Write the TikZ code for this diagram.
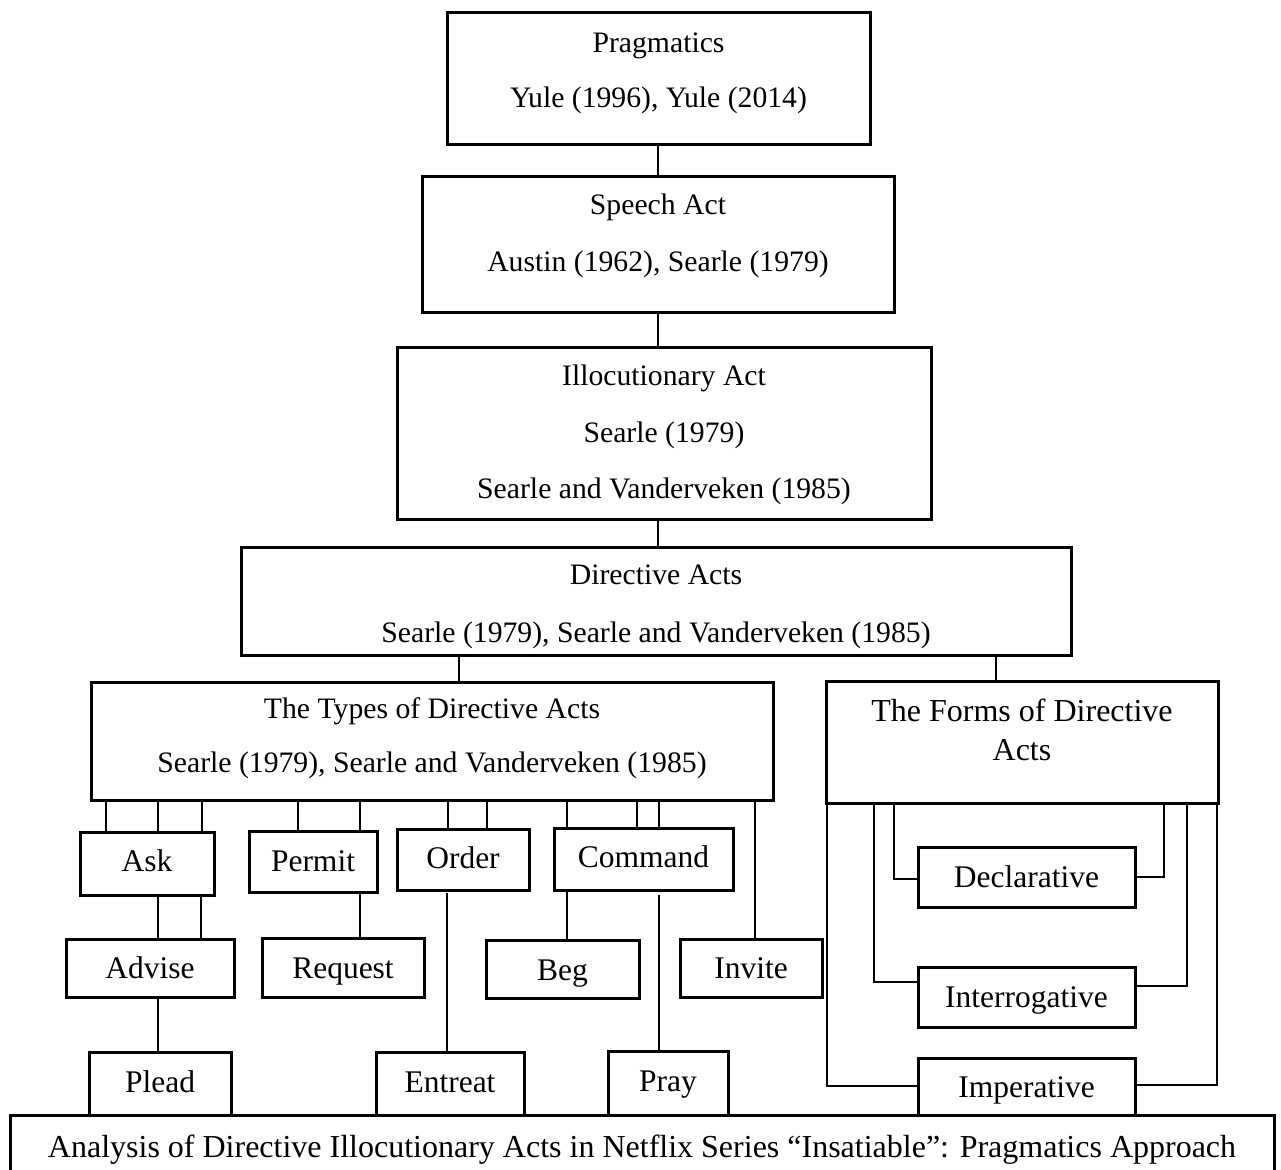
\documentclass[tikz,border=0pt]{standalone}
\usepackage{fontspec}
\setmainfont{Liberation Serif}
\begin{document}
\begin{tikzpicture}[x=1pt,y=-1pt,
  box/.style={draw, line width=3pt, inner sep=0pt, outer sep=0pt},
  conn/.style={draw, line width=1.5pt},
  tbig/.style={inner sep=0pt, anchor=base, font=\fontsize{29.7}{35}\selectfont},
  tsmall/.style={inner sep=0pt, anchor=base, font=\fontsize{31.5}{38}\selectfont},
  tform/.style={inner sep=0pt, anchor=base, font=\fontsize{32}{38}\selectfont}]
\newcommand\mkbox[5]{\node[box, minimum width={#4-#2}, minimum height={#5-#3}] (#1) at ({(#2+#4)/2},{(#3+#5)/2}) {};}
\useasboundingbox (0,0) rectangle (1281,1169);
% boxes
\mkbox{prag}{447}{13}{870}{145}
\mkbox{speech}{422}{177}{894}{312}
\mkbox{illoc}{397}{347}{931}{519}
\mkbox{dir}{241}{547}{1071}{655}
\mkbox{types}{91}{682}{773}{800}
\mkbox{forms}{826}{681}{1218}{803}
\mkbox{ask}{80}{832}{214}{895}
\mkbox{permit}{249}{831}{377}{892}
\mkbox{order}{397}{829}{529}{890}
\mkbox{command}{554}{828}{733}{890}
\mkbox{advise}{66}{939}{234}{997}
\mkbox{request}{262}{938}{424}{997}
\mkbox{beg}{486}{940}{639}{998}
\mkbox{invite}{680}{939}{822}{997}
\mkbox{plead}{89}{1052}{231}{1115}
\mkbox{entreat}{376}{1052}{524}{1115}
\mkbox{pray}{608}{1051}{728}{1115}
\mkbox{decl}{918}{847}{1135}{907}
\mkbox{inter}{918}{967}{1135}{1027}
\mkbox{imper}{918}{1058}{1135}{1115}
\mkbox{cap}{10}{1115}{1274}{1174}
% texts
\node[tbig] (pragA) at (prag |- 0,53) {Pragmatics};
\node[tbig] (pragB) at (prag |- 0,108) {Yule (1996), Yule (2014)};
\node[tbig] (speechA) at (speech |- 0,214) {Speech Act};
\node[tbig] (speechB) at (speech |- 0,271) {Austin (1962), Searle (1979)};
\node[tbig] (illocA) at (illoc |- 0,385) {Illocutionary Act};
\node[tbig] (illocB) at (illoc |- 0,442) {Searle (1979)};
\node[tbig] (illocC) at (illoc |- 0,498) {Searle and Vanderveken (1985)};
\node[tbig] (dirA) at (dir |- 0,584) {Directive Acts};
\node[tbig] (dirB) at (dir |- 0,642) {Searle (1979), Searle and Vanderveken (1985)};
\node[tbig] (typesA) at (types |- 0,718) {The Types of Directive Acts};
\node[tbig] (typesB) at (types |- 0,772) {Searle (1979), Searle and Vanderveken (1985)};
\node[tform] (formsA) at (forms |- 0,721) {The Forms of Directive};
\node[tform] (formsB) at (forms |- 0,760) {Acts};
\node[tsmall] (askT) at (ask |- 0,871) {Ask};
\node[tsmall] (permitT) at (permit |- 0,871) {Permit};
\node[tsmall] (orderT) at (order |- 0,868) {Order};
\node[tsmall] (commandT) at (command |- 0,867) {Command};
\node[tsmall] (adviseT) at (advise |- 0,978) {Advise};
\node[tsmall] (requestT) at (request |- 0,978) {Request};
\node[tsmall] (begT) at (beg |- 0,980) {Beg};
\node[tsmall] (inviteT) at (invite |- 0,978) {Invite};
\node[tsmall] (pleadT) at (plead |- 0,1092) {Plead};
\node[tsmall] (entreatT) at (entreat |- 0,1092) {Entreat};
\node[tsmall] (prayT) at (pray |- 0,1091) {Pray};
\node[tsmall] (declT) at (decl |- 0,887) {Declarative};
\node[tsmall] (interT) at (inter |- 0,1007) {Interrogative};
\node[tsmall] (imperT) at (imper |- 0,1097) {Imperative};
\node[tform] (capT) at (cap |- 0,1157) {Analysis of Directive Illocutionary Acts in Netflix Series “Insatiable”: Pragmatics Approach};
% connectors
\path[conn] (prag.south -| 658,0) -- (speech.north -| 658,0);
\path[conn] (speech.south -| 658,0) -- (illoc.north -| 658,0);
\path[conn] (illoc.south -| 658,0) -- (dir.north -| 658,0);
\path[conn] (dir.south -| 459,0) -- (types.north -| 459,0);
\path[conn] (dir.south -| 996,0) -- (forms.north -| 996,0);
\foreach \x in {106,158,202} \path[conn] (types.south -| \x,0) -- (ask.north -| \x,0);
\foreach \x in {298,360} \path[conn] (types.south -| \x,0) -- (permit.north -| \x,0);
\foreach \x in {448,487} \path[conn] (types.south -| \x,0) -- (order.north -| \x,0);
\foreach \x in {567,637,659} \path[conn] (types.south -| \x,0) -- (command.north -| \x,0);
\path[conn] (types.south -| 755,0) -- (invite.north -| 755,0);
\foreach \x in {158,201} \path[conn] (ask.south -| \x,0) -- (advise.north -| \x,0);
\path[conn] (advise.south -| 158,0) -- (plead.north -| 158,0);
\path[conn] (permit.south -| 360,0) -- (request.north -| 360,0);
\path[conn] ([yshift=-3pt]order.south -| 447,0) -- (entreat.north -| 447,0);
\path[conn] (command.south -| 567,0) -- (beg.north -| 567,0);
\path[conn] ([yshift=-5pt]command.south -| 659,0) -- (pray.north -| 659,0);
% forms connectors
\path[conn] (forms.south -| 894,0) |- (decl.west |- 0,879);
\path[conn] (forms.south -| 874,0) |- (inter.west |- 0,982);
\path[conn] (forms.south -| 827,0) |- (imper.west |- 0,1086);
\path[conn] (forms.south -| 1164,0) |- (decl.east |- 0,877);
\path[conn] (forms.south -| 1187,0) |- (inter.east |- 0,986);
\path[conn] (forms.south -| 1217,0) |- (imper.east |- 0,1085);
\end{tikzpicture}
\end{document}
